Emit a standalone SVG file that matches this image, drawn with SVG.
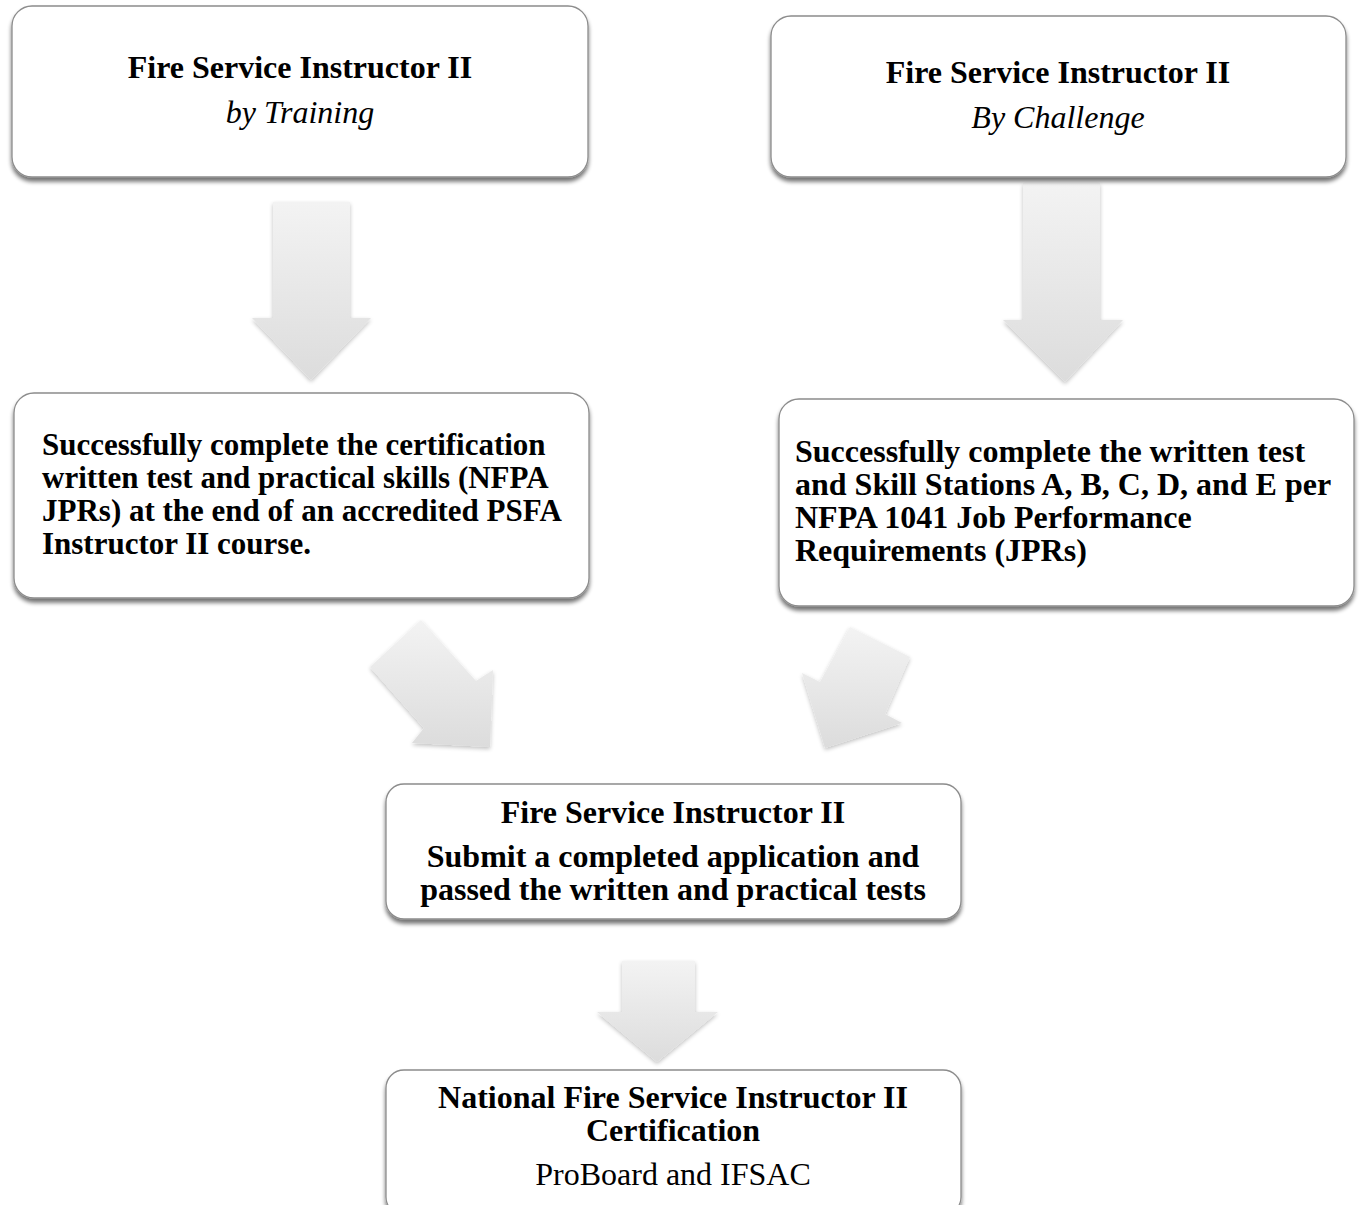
<svg xmlns="http://www.w3.org/2000/svg" width="1363" height="1205" viewBox="0 0 1363 1205">
<defs>
<filter id="bshadow" x="-10%" y="-10%" width="120%" height="130%">
<feGaussianBlur in="SourceAlpha" stdDeviation="2"/>
<feOffset dx="0" dy="4" result="b"/>
<feComponentTransfer><feFuncA type="linear" slope="0.55"/></feComponentTransfer>
<feMerge><feMergeNode/><feMergeNode in="SourceGraphic"/></feMerge>
</filter>
<filter id="ashadow" x="-20%" y="-20%" width="140%" height="140%">
<feGaussianBlur in="SourceAlpha" stdDeviation="2"/>
<feOffset dx="0" dy="2" result="b"/>
<feComponentTransfer><feFuncA type="linear" slope="0.25"/></feComponentTransfer>
<feMerge><feMergeNode/><feMergeNode in="SourceGraphic"/></feMerge>
</filter>
<linearGradient id="ag" x1="0" y1="0" x2="0" y2="1">
<stop offset="0" stop-color="#f3f3f3"/>
<stop offset="1" stop-color="#dcdcdc"/>
</linearGradient>
</defs>
<style>
.box{fill:#ffffff;stroke:#8c8c8c;stroke-width:1.3;filter:url(#bshadow)}
.arr{fill:url(#ag);filter:url(#ashadow)}
text{font-family:"Liberation Serif","Times New Roman",serif;font-size:32px;fill:#000}
.b{font-weight:bold}
.i{font-style:italic}
.c{text-anchor:middle}
.s{font-size:31px}
</style>
<rect width="1363" height="1205" fill="#ffffff"/>
<g id="connectors">
<polygon class="arr" points="273,202 350,202 350,318 371,318 311,380 252,318 273,318"/>
<polygon class="arr" points="1023,183 1100,183 1100,320 1123,320 1065,382 1003,320 1023,320"/>
<polygon class="arr" points="421,620 476,681 493,670 490,747 412,743 424,728 370,667"/>
<polygon class="arr" points="850,627 910,657 885,714 902,723 825,748 802,673 820,682"/>
<polygon class="arr" points="622,961 695,961 695,1012 718,1012 657,1062 597,1012 622,1012"/>
</g>
<g id="node-training">
<rect class="box" x="12" y="6" width="576" height="171" rx="20"/>
<text class="b c" x="300" y="78">Fire Service Instructor II</text>
<text class="i c" x="300" y="123">by Training</text>
</g>
<g id="node-challenge">
<rect class="box" x="771" y="16" width="575" height="161" rx="20"/>
<text class="b c" x="1058" y="83">Fire Service Instructor II</text>
<text class="i c" x="1058" y="128">By Challenge</text>
</g>
<g id="node-training-req">
<rect class="box" x="14" y="393" width="575" height="205" rx="20"/>
<text class="b s" x="42" y="455">Successfully complete the certification</text>
<text class="b s" x="42" y="488">written test and practical skills (NFPA</text>
<text class="b s" x="42" y="521">JPRs) at the end of an accredited PSFA</text>
<text class="b s" x="42" y="554">Instructor II course.</text>
</g>
<g id="node-challenge-req">
<rect class="box" x="779" y="399" width="575" height="207" rx="20"/>
<text class="b" x="795" y="462">Successfully complete the written test</text>
<text class="b" x="795" y="495">and Skill Stations A, B, C, D, and E per</text>
<text class="b" x="795" y="528">NFPA 1041 Job Performance</text>
<text class="b" x="795" y="561">Requirements (JPRs)</text>
</g>
<g id="node-submit">
<rect class="box" x="386" y="784" width="575" height="135" rx="18"/>
<text class="b c" x="673" y="823">Fire Service Instructor II</text>
<text class="b c" x="673" y="867">Submit a completed application and</text>
<text class="b c" x="673" y="900">passed the written and practical tests</text>
</g>
<g id="node-national">
<rect class="box" x="386" y="1070" width="575" height="145" rx="18"/>
<text class="b c" x="673" y="1108">National Fire Service Instructor II</text>
<text class="b c" x="673" y="1141">Certification</text>
<text class="c" x="673" y="1185">ProBoard and IFSAC</text>
</g>
</svg>
